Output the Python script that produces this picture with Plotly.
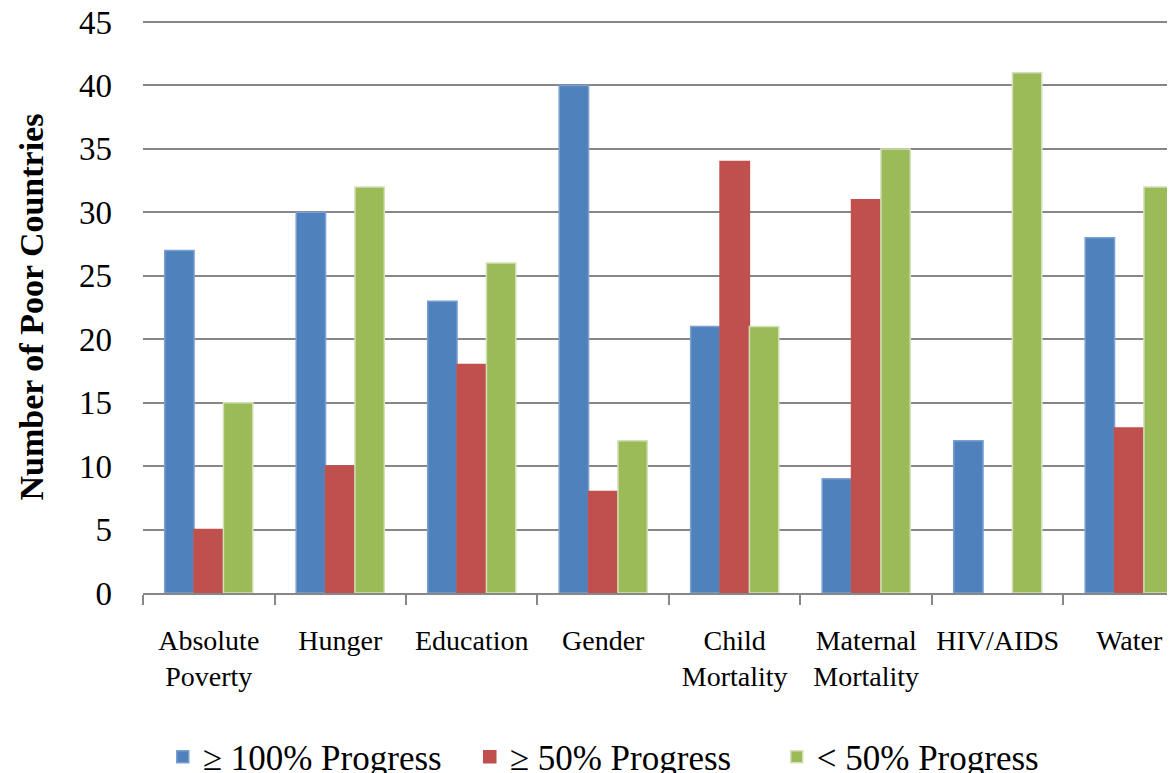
import plotly.graph_objects as go

categories = ["Absolute<br>Poverty", "Hunger", "Education", "Gender", "Child<br>Mortality",
              "Maternal<br>Mortality", "HIV/AIDS", "Water"]
progress_100 = [27, 30, 23, 40, 21, 9, 12, 28]
progress_50 = [5, 10, 18, 8, 34, 31, 0, 13]
progress_lt50 = [15, 32, 26, 12, 21, 35, 41, 32]
series_names = ["\u2265 100% Progress", "\u2265 50% Progress", "< 50% Progress"]
y_ticks = [0, 5, 10, 15, 20, 25, 30, 35, 40, 45]

colors = ["#4F81BD", "#C0504D", "#9BBB59"]
edge = ["#7a9fd0", "#C0504D", "#d3e1b8"]
serif = "Liberation Serif, Times New Roman, serif"

fig = go.Figure()
for name, vals, c, e in zip(series_names, [progress_100, progress_50, progress_lt50], colors, edge):
    fig.add_trace(go.Bar(x=categories, y=vals, name=name,
                         marker=dict(color=c, line=dict(color=e, width=[1.5 if v > 0 else 0 for v in vals]))))

fig.update_layout(
    template="none",
    width=1175, height=790,
    margin=dict(l=135, r=0, t=13, b=205, pad=0),
    paper_bgcolor="white", plot_bgcolor="white",
    barmode="group", bargap=0.33, bargroupgap=0,
    font=dict(family=serif, color="black"),
    legend=dict(orientation="h", x=0.019, xanchor="left", y=-0.235, yanchor="top",
                font=dict(size=35, family=serif), traceorder="normal",
                entrywidth=262, entrywidthmode="pixels",
                bgcolor="rgba(0,0,0,0)", borderwidth=0),
    showlegend=True,
)
fig.update_xaxes(
    range=[-0.5, 7.409], automargin=False,
    showgrid=False, showline=True, linecolor="#878787", linewidth=2,
    ticks="outside", tickson="boundaries", ticklen=10, tickwidth=2, tickcolor="#878787",
    tickfont=dict(size=28, family=serif), ticklabelstandoff=21, tickangle=0,
)
fig.update_yaxes(
    range=[0, 45.08], tickvals=y_ticks, automargin=False, ticklabeloverflow="allow",
    showgrid=True, gridcolor="#878787", gridwidth=2,
    showline=False, zeroline=False, ticks="",
    tickfont=dict(size=33, family=serif), ticklabelstandoff=30,
    title=dict(text="<b>Number of Poor Countries</b>", font=dict(size=34, family=serif), standoff=25),
)

fig.write_html("out.html")
